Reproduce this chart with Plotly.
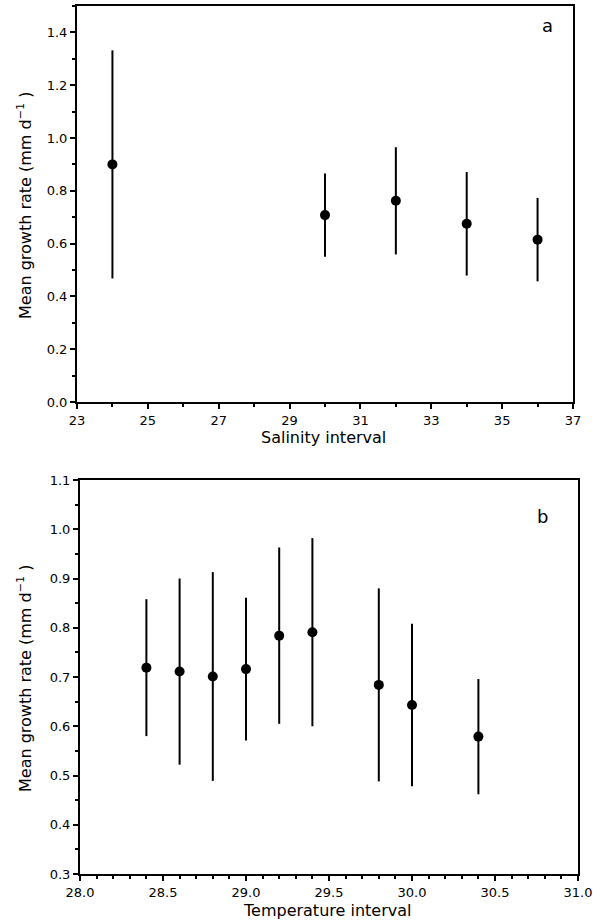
import plotly.graph_objects as go

# Panel a: salinity
sal_x = [24, 30, 32, 34, 36]
sal_y = [0.90, 0.708, 0.762, 0.675, 0.615]
sal_err = [0.432, 0.158, 0.203, 0.196, 0.158]

# Panel b: temperature
tmp_x = [28.4, 28.6, 28.8, 29.0, 29.2, 29.4, 29.8, 30.0, 30.4]
tmp_y = [0.719, 0.711, 0.701, 0.716, 0.784, 0.791, 0.684, 0.643, 0.579]
tmp_err = [0.139, 0.189, 0.212, 0.145, 0.179, 0.191, 0.196, 0.165, 0.117]

W, H = 593, 923
FONT = "DejaVu Sans, sans-serif"

fig = go.Figure()
fig.add_trace(go.Scatter(
    x=sal_x, y=sal_y, mode="markers",
    marker=dict(color="black", size=10),
    error_y=dict(type="data", array=sal_err, color="black", thickness=2, width=0),
    xaxis="x", yaxis="y", showlegend=False))
fig.add_trace(go.Scatter(
    x=tmp_x, y=tmp_y, mode="markers",
    marker=dict(color="black", size=10),
    error_y=dict(type="data", array=tmp_err, color="black", thickness=2, width=0),
    xaxis="x2", yaxis="y2", showlegend=False))

axis_common = dict(showline=True, linecolor="black", linewidth=2, mirror=True,
                   ticks="outside", ticklen=5, tickwidth=1.5, tickcolor="black",
                   showgrid=False, zeroline=False, automargin=False,
                   tickfont=dict(family=FONT, size=13, color="black"))

fig.update_layout(
    template="none",
    width=W, height=H,
    margin=dict(l=0, r=0, t=0, b=0, autoexpand=False),
    paper_bgcolor="white", plot_bgcolor="white",
    xaxis=dict(domain=[77 / W, 573 / W], range=[23, 37], tickvals=[23, 25, 27, 29, 31, 33, 35, 37],
               minor=dict(tickvals=[24, 26, 28, 30, 32, 34, 36], ticks="outside", ticklen=3,
                          tickcolor="black"),
               anchor="y", **axis_common),
    yaxis=dict(domain=[1 - 402 / H, 1 - 6 / H], range=[0, 1.5], tickvals=[0, 0.2, 0.4, 0.6, 0.8, 1.0, 1.2, 1.4],
               ticktext=["0.0", "0.2", "0.4", "0.6", "0.8", "1.0", "1.2", "1.4"],
               minor=dict(dtick=0.1, tick0=0, ticks="outside", ticklen=3, tickcolor="black"),
               anchor="x", **axis_common),
    xaxis2=dict(domain=[80 / W, 578 / W], range=[28, 31], tickvals=[28, 28.5, 29, 29.5, 30, 30.5, 31],
                ticktext=["28.0", "28.5", "29.0", "29.5", "30.0", "30.5", "31.0"],
                minor=dict(dtick=0.1, tick0=28, ticks="outside", ticklen=3, tickcolor="black"),
                anchor="y2", **axis_common),
    yaxis2=dict(domain=[1 - 874 / H, 1 - 480 / H], range=[0.3, 1.1],
                tickvals=[0.3, 0.4, 0.5, 0.6, 0.7, 0.8, 0.9, 1.0, 1.1],
                ticktext=["0.3", "0.4", "0.5", "0.6", "0.7", "0.8", "0.9", "1.0", "1.1"],
                minor=dict(dtick=0.05, tick0=0.3, ticks="outside", ticklen=3, tickcolor="black"),
                anchor="x2", **axis_common),
)

ann_font = dict(family=FONT, size=16, color="black")


def label(text, px, py, angle=0, font=ann_font):
    fig.add_annotation(text=text, xref="paper", yref="paper", x=px / W, y=1 - py / H,
                       xanchor="center", yanchor="middle", showarrow=False,
                       textangle=angle, font=font)


label("Salinity interval", 323, 437)
label("Temperature interval", 327, 910)
label("Mean growth rate (mm d<sup>−1</sup> )", 24, 205, angle=-90)
label("Mean growth rate (mm d<sup>−1</sup> )", 24, 678, angle=-90)
label("a", 547, 26, font=dict(family=FONT, size=18, color="black"))
label("b", 542, 516, font=dict(family=FONT, size=18, color="black"))

fig.write_html("out.html", config={"displayModeBar": False},
               post_script="document.body.style.margin='0';document.body.style.overflow='hidden';")
